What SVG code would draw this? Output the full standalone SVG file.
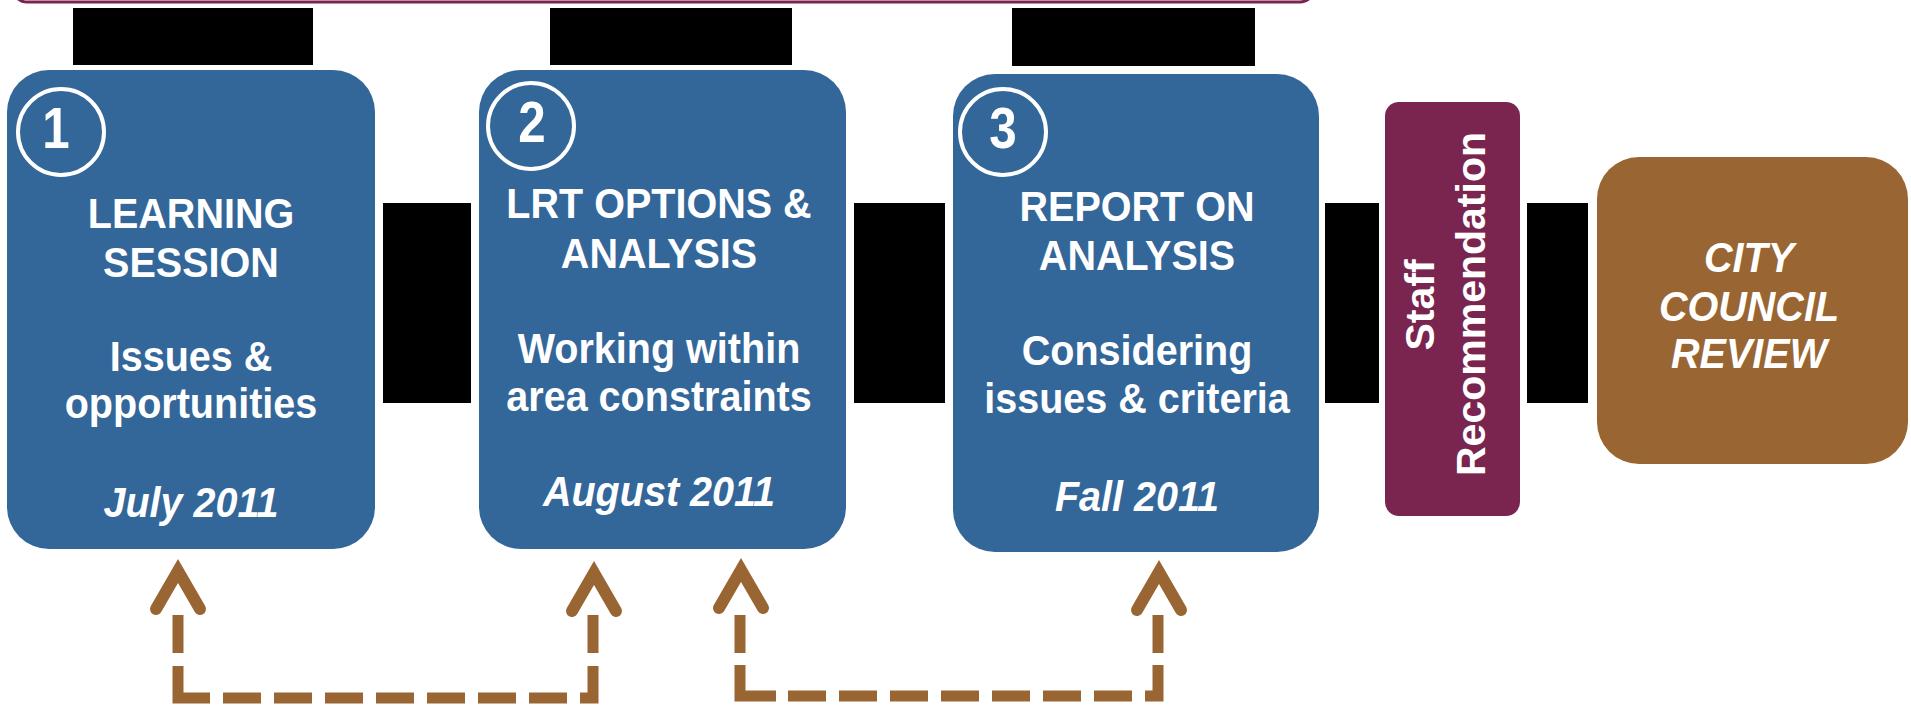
<svg xmlns="http://www.w3.org/2000/svg" xmlns:xlink="http://www.w3.org/1999/xlink" width="1911" height="706" viewBox="0 0 1911 706">
<style>
.blue{fill:#336699}
.blk{fill:#000}
.t{font-family:"Liberation Sans",Arial,sans-serif;font-weight:bold;font-size:43px;fill:#fff;text-anchor:middle}
.it{font-style:italic}
.num{font-family:"Liberation Sans",Arial,sans-serif;font-weight:bold;font-size:58px;fill:#fff;text-anchor:middle}
.ring{fill:none;stroke:#fff;stroke-width:4}
.dash{fill:none;stroke:#996633;stroke-width:11;stroke-linecap:butt;stroke-linejoin:miter}
.head{fill:none;stroke:#996633;stroke-width:12;stroke-linecap:round;stroke-linejoin:miter;stroke-miterlimit:10}
</style>
<defs>
<path id="ah" d="M-22,38 L0,0 L22,38"/>
</defs>
<rect width="1911" height="706" fill="#fff"/>
<rect x="13" y="-40" width="1301" height="42" rx="14" fill="none" stroke="#7a254f" stroke-width="3"/>

<g id="redactions">
<rect class="blk" x="73" y="8" width="240" height="57"/>
<rect class="blk" x="550" y="8" width="242" height="57"/>
<rect class="blk" x="1012" y="8" width="243" height="58"/>
</g>

<g id="connectors">
<rect class="blk" x="383" y="203" width="88" height="200"/>
<rect class="blk" x="854" y="203" width="91" height="200"/>
<rect class="blk" x="1325" y="203" width="54" height="200"/>
<rect class="blk" x="1527" y="203" width="61" height="200"/>
<path class="dash" d="M178,615 V698 H593 V615" stroke-dasharray="38 13 64 13 38 13 38 13 38 13 38 13 38 13 38 13 38 13 45 13 38 100"/>
<path class="dash" d="M740,615 V696 H1158 V615" stroke-dasharray="38 12 67 12 38 13 38 13 38 13 38 13 38 13 38 13 38 13 44 12 38 100"/>
<use xlink:href="#ah" href="#ah" class="head" transform="translate(178,571)"/>
<use xlink:href="#ah" href="#ah" class="head" transform="translate(594,573)"/>
<use xlink:href="#ah" href="#ah" class="head" transform="translate(741,570)"/>
<use xlink:href="#ah" href="#ah" class="head" transform="translate(1159,572)"/>
</g>

<g id="node1">
<rect class="blue" x="7" y="70" width="368" height="479" rx="42"/>
<circle class="ring" cx="61" cy="132" r="43"/>
<text class="num" transform="translate(56,148) scale(0.85,1)">1</text>
<g transform="translate(191,0) scale(0.92,1)">
<text class="t" x="0" y="228">LEARNING</text>
<text class="t" x="0" y="277">SESSION</text>
<text class="t" x="0" y="371">Issues &amp;</text>
<text class="t" x="0" y="418">opportunities</text>
<text class="t it" x="0" y="517">July 2011</text>
</g>
</g>

<g id="node2">
<rect class="blue" x="479" y="70" width="367" height="479" rx="42"/>
<circle class="ring" cx="531" cy="126" r="43"/>
<text class="num" transform="translate(532,142) scale(0.85,1)">2</text>
<g transform="translate(659,0) scale(0.92,1)">
<text class="t" x="0" y="218">LRT OPTIONS &amp;</text>
<text class="t" x="0" y="268">ANALYSIS</text>
<text class="t" x="0" y="363">Working within</text>
<text class="t" x="0" y="411">area constraints</text>
<text class="t it" x="0" y="506">August 2011</text>
</g>
</g>

<g id="node3">
<rect class="blue" x="953" y="74" width="366" height="478" rx="42"/>
<circle class="ring" cx="1003" cy="132" r="43"/>
<text class="num" transform="translate(1003,148) scale(0.85,1)">3</text>
<g transform="translate(1137,0) scale(0.92,1)">
<text class="t" x="0" y="221">REPORT ON</text>
<text class="t" x="0" y="270">ANALYSIS</text>
<text class="t" x="0" y="365">Considering</text>
<text class="t" x="0" y="413">issues &amp; criteria</text>
<text class="t it" x="0" y="511">Fall 2011</text>
</g>
</g>

<g id="staff">
<rect x="1385" y="102" width="135" height="414" rx="14" fill="#7a254f"/>
<text class="t" style="font-size:41px" transform="translate(1434,305) rotate(-90)">Staff</text>
<text class="t" style="font-size:41px" transform="translate(1485,304) rotate(-90)">Recommendation</text>
</g>

<g id="council">
<rect x="1597" y="157" width="311" height="307" rx="42" fill="#996633"/>
<g transform="translate(1749,0) scale(0.92,1)">
<text class="t it" x="0" y="272">CITY</text>
<text class="t it" x="0" y="321">COUNCIL</text>
<text class="t it" x="0" y="368">REVIEW</text>
</g>
</g>
</svg>
